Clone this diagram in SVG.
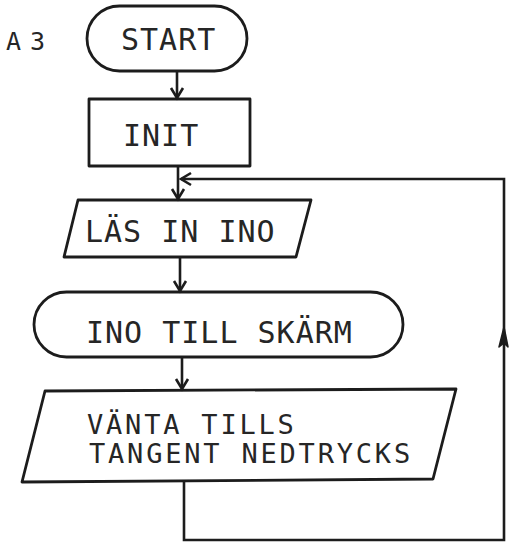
<svg xmlns="http://www.w3.org/2000/svg" width="509" height="544" viewBox="0 0 509 544">
  <style>
    .shape { fill: none; stroke: #1c1c1c; stroke-width: 2.8; stroke-linejoin: round; }
    .edge { fill: none; stroke: #1c1c1c; stroke-width: 2.6; }
    .label { font-family: "DejaVu Sans Mono", "Liberation Mono", monospace; font-size: 30px; fill: #262626; letter-spacing: 1px; }
    .label-2 { font-family: "DejaVu Sans Mono", "Liberation Mono", monospace; font-size: 27px; fill: #262626; letter-spacing: 2.8px; }
    .tag { font-family: "DejaVu Sans Mono", "Liberation Mono", monospace; font-size: 25px; fill: #262626; letter-spacing: 9px; }
  </style>
  <defs>
    <marker id="arrow" markerUnits="userSpaceOnUse" markerWidth="24" markerHeight="24" refX="0" refY="0" viewBox="-12 -12 24 24" orient="auto" overflow="visible">
      <path d="M-10,-6 L0,0 L-10,6" fill="none" stroke="#1c1c1c" stroke-width="2.6" stroke-linejoin="miter"/>
    </marker>
    <marker id="arrow-solid" markerUnits="userSpaceOnUse" markerWidth="30" markerHeight="30" refX="0" refY="0" viewBox="-15 -15 30 30" orient="auto" overflow="visible">
      <path d="M-20,-5 L0,0 L-20,4 L-16,0 Z" fill="#1c1c1c" stroke="#1c1c1c" stroke-width="1.5" stroke-linejoin="round"/>
    </marker>
  </defs>

  <rect width="509" height="544" fill="#ffffff"/>

  <!-- page tag -->
  <text class="tag" x="6" y="50">A3</text>

  <g id="start">
    <rect class="shape" x="87" y="6" width="160" height="65" rx="32.5" ry="32.5"/>
    <text class="label" x="121" y="50">START</text>
  </g>

  <g id="init">
    <rect class="shape" x="89" y="99" width="161" height="67"/>
    <text class="label" x="123" y="146">INIT</text>
  </g>

  <g id="read-ino">
    <polygon class="shape" points="78,200 311,200 296,257 64,257"/>
    <text class="label" x="85" y="242">LÄS IN INO</text>
  </g>

  <g id="ino-to-screen">
    <rect class="shape" x="34" y="292" width="369" height="65" rx="32.5" ry="32.5"/>
    <text class="label" x="86" y="343">INO TILL SKÄRM</text>
  </g>

  <g id="wait-key">
    <polygon class="shape" points="45,391 456,389 433,479 22,482"/>
    <text class="label-2" x="87" y="434">VÄNTA TILLS</text>
    <text class="label-2" x="89" y="463">TANGENT NEDTRYCKS</text>
  </g>

  <g id="connectors">
    <line class="edge" x1="177" y1="71" x2="177" y2="98" marker-end="url(#arrow)"/>
    <line class="edge" x1="178" y1="166" x2="178" y2="199" marker-end="url(#arrow)"/>
    <line class="edge" x1="180" y1="257" x2="180" y2="291" marker-end="url(#arrow)"/>
    <line class="edge" x1="182" y1="357" x2="182" y2="389" marker-end="url(#arrow)"/>
    <!-- loop back from the key wait to the read step -->
    <polyline class="edge" points="184,481 184,540 504,540 504,327" marker-end="url(#arrow-solid)"/>
    <polyline class="edge" points="504,327 504,179 181,179" marker-end="url(#arrow)"/>
  </g>
</svg>
